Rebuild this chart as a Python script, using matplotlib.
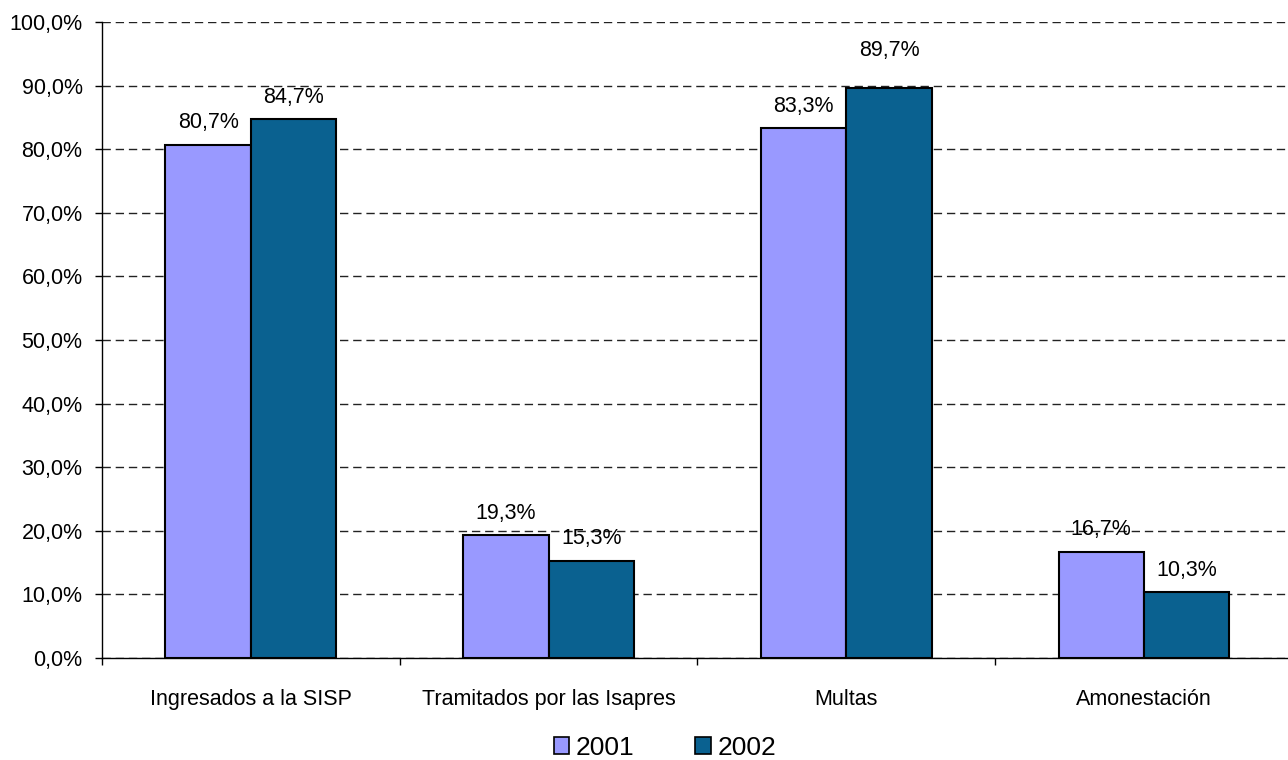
import matplotlib
matplotlib.use("Agg")
import matplotlib.pyplot as plt
from matplotlib.patches import Patch
from matplotlib.ticker import FuncFormatter, FixedLocator
import numpy as np

plt.rcParams["font.family"] = ["Liberation Sans", "DejaVu Sans"]

categories = ["Ingresados a la SISP", "Tramitados por las Isapres", "Multas", "Amonestación"]
series_names = ["2001", "2002"]
values_2001 = [80.7, 19.3, 83.3, 16.7]
values_2002 = [84.7, 15.3, 89.7, 10.3]

colors = ["#9999FF", "#0A6190"]
# vertical gap (pixels) between bar top and its value label
label_gap_2001 = [22, 22, 22, 22]
label_gap_2002 = [22, 22, 37, 22]

W, H = 1288, 760
fig = plt.figure(figsize=(W / 100, H / 100), dpi=100)
ax = fig.add_axes([102 / W, (H - 658) / H, (W - 102) / W, 636 / H])

x = np.arange(len(categories))
width = 0.287
fs = 15.5

def pct(v):
    return f"{v:.1f}%".replace(".", ",")

for vals, xoff, col, gaps in [
    (values_2001, -width / 2, colors[0], label_gap_2001),
    (values_2002, width / 2, colors[1], label_gap_2002),
]:
    ax.bar(x + xoff, vals, width=width, color=col, edgecolor="black", linewidth=1.5, zorder=3)
    for xi, v, g in zip(x + xoff, vals, gaps):
        ax.annotate(pct(v), (xi, v), xytext=(0, g * 0.72), textcoords="offset points",
                    ha="center", va="center", fontsize=fs, color="black", zorder=4)

ax.set_ylim(0, 100)
ax.set_xlim(-0.5, -0.5 + (W - 102) / 297.7)
ax.set_yticks(np.arange(0, 101, 10))
ax.yaxis.set_major_formatter(FuncFormatter(lambda v, _: pct(v)))
ax.yaxis.grid(True, linestyle=(0, (6, 3.5)), color="#222222", linewidth=1.0, zorder=0)
ax.set_axisbelow(True)

ax.xaxis.set_major_locator(FixedLocator(np.arange(len(categories) + 1) - 0.5))
ax.xaxis.set_major_formatter(FuncFormatter(lambda v, _: ""))
ax.xaxis.set_minor_locator(FixedLocator(x))
ax.set_xticklabels(categories, minor=True)
ax.tick_params(axis="x", which="minor", length=0, pad=22, labelsize=fs)
ax.tick_params(axis="x", which="major", length=5, width=1, direction="out")
ax.tick_params(axis="y", length=5, width=1, direction="out", pad=9, labelsize=fs)

for s in ["top", "right"]:
    ax.spines[s].set_visible(False)
for s in ["left", "bottom"]:
    ax.spines[s].set_linewidth(1.0)

handles = [Patch(facecolor=c, edgecolor="black", linewidth=1.2) for c in colors]
fig.legend(handles, series_names, loc="center", bbox_to_anchor=(665 / W, 1 - 748 / H),
           ncol=2, frameon=False, fontsize=19, handlelength=0.6, handleheight=0.6,
           handletextpad=0.25, columnspacing=2.3)

fig.savefig("out.png", dpi=100)
